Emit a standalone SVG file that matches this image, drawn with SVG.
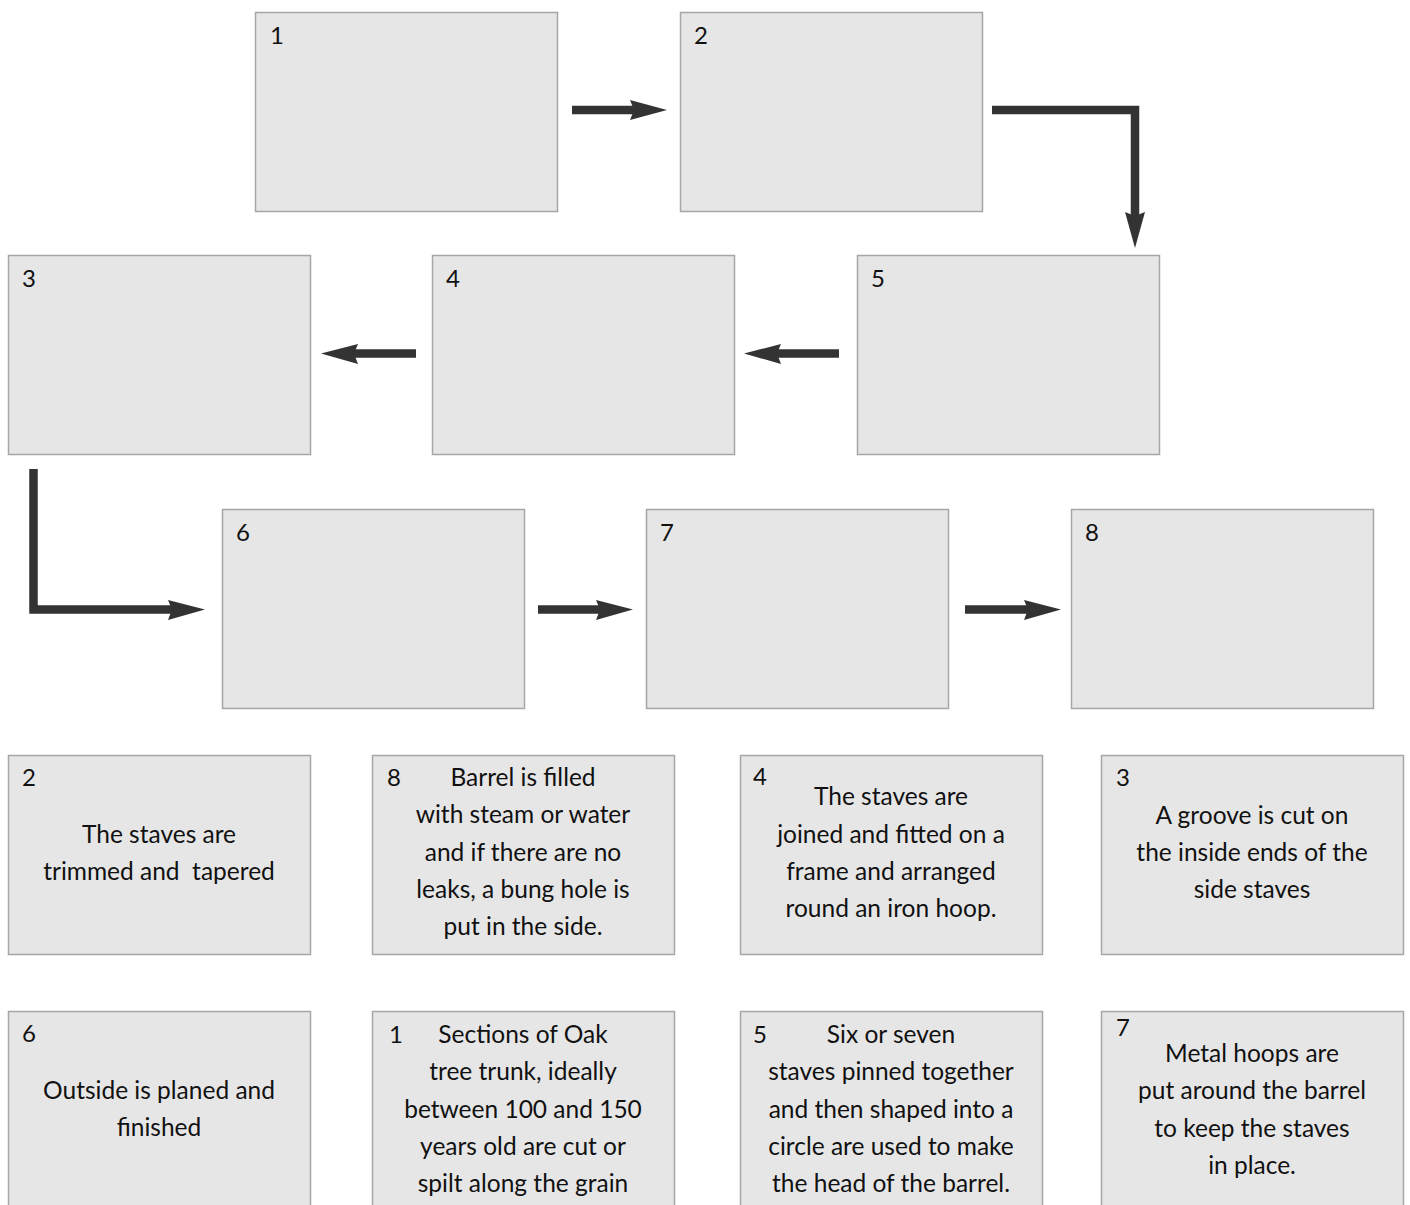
<svg xmlns="http://www.w3.org/2000/svg" width="1410" height="1205" viewBox="0 0 1410 1205">
<style>
.box{fill:#e6e6e6;stroke:#a6a6a6;stroke-width:1.5}
.num{font-family:Lato,"Liberation Sans",sans-serif;font-size:24px;fill:#111}
.t{font-family:Lato,"Liberation Sans",sans-serif;font-size:24.5px;fill:#111;text-anchor:middle}
.ln{fill:none;stroke:#333;stroke-width:8.5;stroke-linejoin:miter}
.hd{fill:#333}
</style>
<rect width="1410" height="1205" fill="#fff"/>
<g id="connectors">
  <line class="ln" x1="572" y1="110" x2="636" y2="110"/>
  <path class="hd" d="M667,110 L630,100 L634,110 L630,120 Z"/>
  <path class="ln" d="M992,110 H1135 V216"/>
  <path class="hd" d="M1135,248 L1125,212 L1135,216 L1145,212 Z"/>
  <line class="ln" x1="416" y1="353.5" x2="352" y2="353.5"/>
  <path class="hd" d="M321,353.5 L358,344 L354,353.5 L358,364 Z"/>
  <line class="ln" x1="839" y1="353.5" x2="775" y2="353.5"/>
  <path class="hd" d="M744,353.5 L781,344 L777,353.5 L781,364 Z"/>
  <path class="ln" d="M33.5,469 V609.5 H174"/>
  <path class="hd" d="M205,609.5 L168,600 L172,609.5 L168,620 Z"/>
  <line class="ln" x1="538" y1="609.5" x2="602" y2="609.5"/>
  <path class="hd" d="M633,609.5 L596,600 L600,609.5 L596,620 Z"/>
  <line class="ln" x1="965" y1="609.5" x2="1030" y2="609.5"/>
  <path class="hd" d="M1061,609.5 L1024,600 L1028,609.5 L1024,620 Z"/>
</g>
<g id="n1"><rect class="box" x="255.5" y="12.5" width="302" height="199"/><text class="num" x="270" y="44">1</text></g>
<g id="n2"><rect class="box" x="680.5" y="12.5" width="302" height="199"/><text class="num" x="694" y="44">2</text></g>
<g id="n3"><rect class="box" x="8.5" y="255.5" width="302" height="199"/><text class="num" x="22" y="287">3</text></g>
<g id="n4"><rect class="box" x="432.5" y="255.5" width="302" height="199"/><text class="num" x="446" y="287">4</text></g>
<g id="n5"><rect class="box" x="857.5" y="255.5" width="302" height="199"/><text class="num" x="871" y="287">5</text></g>
<g id="n6"><rect class="box" x="222.5" y="509.5" width="302" height="199"/><text class="num" x="236" y="541">6</text></g>
<g id="n7"><rect class="box" x="646.5" y="509.5" width="302" height="199"/><text class="num" x="660" y="541">7</text></g>
<g id="n8"><rect class="box" x="1071.5" y="509.5" width="302" height="199"/><text class="num" x="1085" y="541">8</text></g>

<g id="d2"><rect class="box" x="8.5" y="755.5" width="302" height="199"/><text class="num" x="22" y="786">2</text>
<text class="t" x="159" y="843">The staves are</text><text class="t" x="159" y="880" xml:space="preserve">trimmed and  tapered</text></g>
<g id="d8"><rect class="box" x="372.5" y="755.5" width="302" height="199"/><text class="num" x="387" y="786">8</text>
<text class="t" x="523" y="786">Barrel is filled</text><text class="t" x="523" y="823">with steam or water</text><text class="t" x="523" y="861">and if there are no</text><text class="t" x="523" y="898">leaks, a bung hole is</text><text class="t" x="523" y="935">put in the side.</text></g>
<g id="d4"><rect class="box" x="740.5" y="755.5" width="302" height="199"/><text class="num" x="753" y="785">4</text>
<text class="t" x="891" y="805">The staves are</text><text class="t" x="891" y="843">joined and fitted on a</text><text class="t" x="891" y="880">frame and arranged</text><text class="t" x="891" y="917">round an iron hoop.</text></g>
<g id="d3"><rect class="box" x="1101.5" y="755.5" width="302" height="199"/><text class="num" x="1116" y="786">3</text>
<text class="t" x="1252" y="824">A groove is cut on</text><text class="t" x="1252" y="861">the inside ends of the</text><text class="t" x="1252" y="898">side staves</text></g>

<g id="d6"><rect class="box" x="8.5" y="1011.5" width="302" height="199"/><text class="num" x="22" y="1042">6</text>
<text class="t" x="159" y="1099">Outside is planed and</text><text class="t" x="159" y="1136">finished</text></g>
<g id="d1"><rect class="box" x="372.5" y="1011.5" width="302" height="199"/><text class="num" x="389" y="1043">1</text>
<text class="t" x="523" y="1043">Sections of Oak</text><text class="t" x="523" y="1080">tree trunk, ideally</text><text class="t" x="523" y="1118">between 100 and 150</text><text class="t" x="523" y="1155">years old are cut or</text><text class="t" x="523" y="1192">spilt along the grain</text></g>
<g id="d5"><rect class="box" x="740.5" y="1011.5" width="302" height="199"/><text class="num" x="753" y="1043">5</text>
<text class="t" x="891" y="1043">Six or seven</text><text class="t" x="891" y="1080">staves pinned together</text><text class="t" x="891" y="1118">and then shaped into a</text><text class="t" x="891" y="1155">circle are used to make</text><text class="t" x="891" y="1192">the head of the barrel.</text></g>
<g id="d7"><rect class="box" x="1101.5" y="1011.5" width="302" height="199"/><text class="num" x="1116" y="1036">7</text>
<text class="t" x="1252" y="1062">Metal hoops are</text><text class="t" x="1252" y="1099">put around the barrel</text><text class="t" x="1252" y="1137">to keep the staves</text><text class="t" x="1252" y="1174">in place.</text></g>
</svg>
